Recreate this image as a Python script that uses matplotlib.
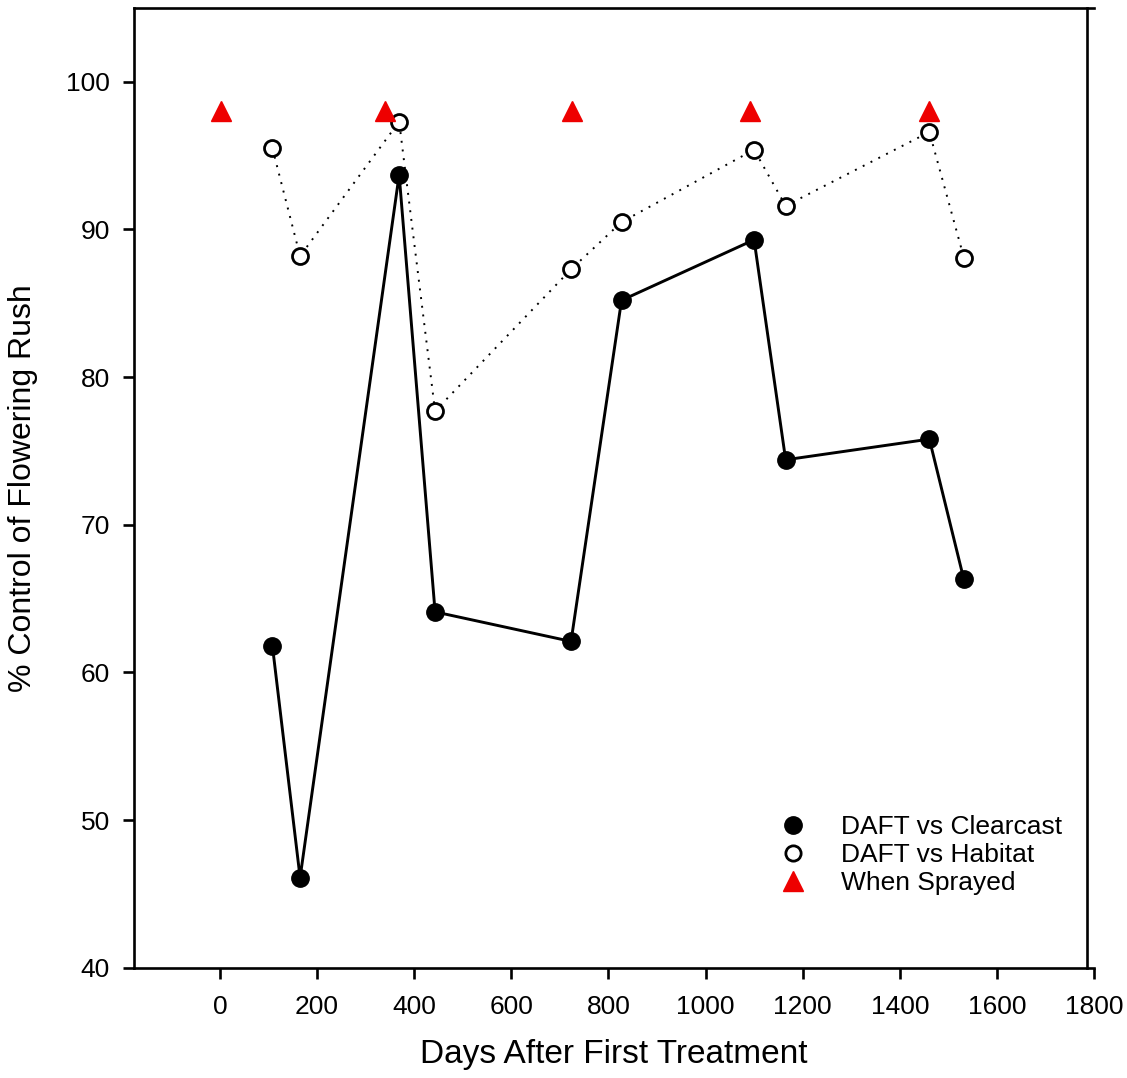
import matplotlib
matplotlib.use("Agg")
import matplotlib.pyplot as plt
from matplotlib.lines import Line2D

plt.rcParams['font.family'] = ['Liberation Sans', 'DejaVu Sans']

# days after first treatment
clear_days = [108, 165, 369, 443, 723, 827, 1100, 1165, 1461, 1532]
clear_vals = [61.8, 46.1, 93.7, 64.1, 62.1, 85.2, 89.3, 74.4, 75.8, 66.3]

hab_days = [108, 165, 369, 443, 723, 827, 1100, 1165, 1461, 1532]
hab_vals = [95.5, 88.2, 97.3, 77.7, 87.3, 90.5, 95.4, 91.6, 96.6, 88.1]

spray_days = [3, 340, 724, 1091, 1461]
spray_vals = [98, 98, 98, 98, 98]

x_ticks = [0, 200, 400, 600, 800, 1000, 1200, 1400, 1600, 1800]
y_ticks = [40, 50, 60, 70, 80, 90, 100]

fig = plt.figure(figsize=(11.27, 10.78), dpi=100)
ax = fig.add_axes([0.1185, 0.1023, 0.8522, 0.8903])

# solid line with filled circles
ax.plot(clear_days, clear_vals, color='black', lw=2.1, marker='o',
        markersize=12.5, markerfacecolor='black', markeredgecolor='black', zorder=3)
# dotted line with open circles
ax.plot(hab_days, hab_vals, color='black', lw=1.4, linestyle=(0, (1, 3.5)),
        marker='o', markersize=11.5, markerfacecolor='white',
        markeredgecolor='black', markeredgewidth=2, zorder=3)
# spray dates
ax.plot(spray_days, spray_vals, linestyle='none', marker='^', markersize=14,
        color='#ee0000', markeredgecolor='#ee0000', zorder=4)

ax.set_xlim(-178, 1800)
ax.set_ylim(40, 105)
ax.set_xticks(x_ticks)
ax.set_yticks(y_ticks)
ax.spines['right'].set_position(('data', 1786))
for s in ax.spines.values():
    s.set_linewidth(1.9)
ax.tick_params(direction='out', length=8, width=1.9, labelsize=19, pad=12)
ax.tick_params(axis='y', pad=9)

ax.set_xlabel('Days After First Treatment', fontsize=24, labelpad=14)
ax.set_ylabel('% Control of Flowering Rush', fontsize=23, labelpad=20)

handles = [
    Line2D([], [], linestyle='none', marker='o', markersize=12.5,
           markerfacecolor='black', markeredgecolor='black'),
    Line2D([], [], linestyle='none', marker='o', markersize=11,
           markerfacecolor='white', markeredgecolor='black', markeredgewidth=2),
    Line2D([], [], linestyle='none', marker='^', markersize=14,
           color='#ee0000'),
]
labels = ['DAFT vs Clearcast', 'DAFT vs Habitat', 'When Sprayed']
ax.legend(handles, labels, loc='upper left', bbox_to_anchor=(0.662, 0.17),
          frameon=False, fontsize=19, labelspacing=0.15, handletextpad=1.3,
          handlelength=1.0, borderaxespad=0)

fig.savefig('out.png', dpi=100)
